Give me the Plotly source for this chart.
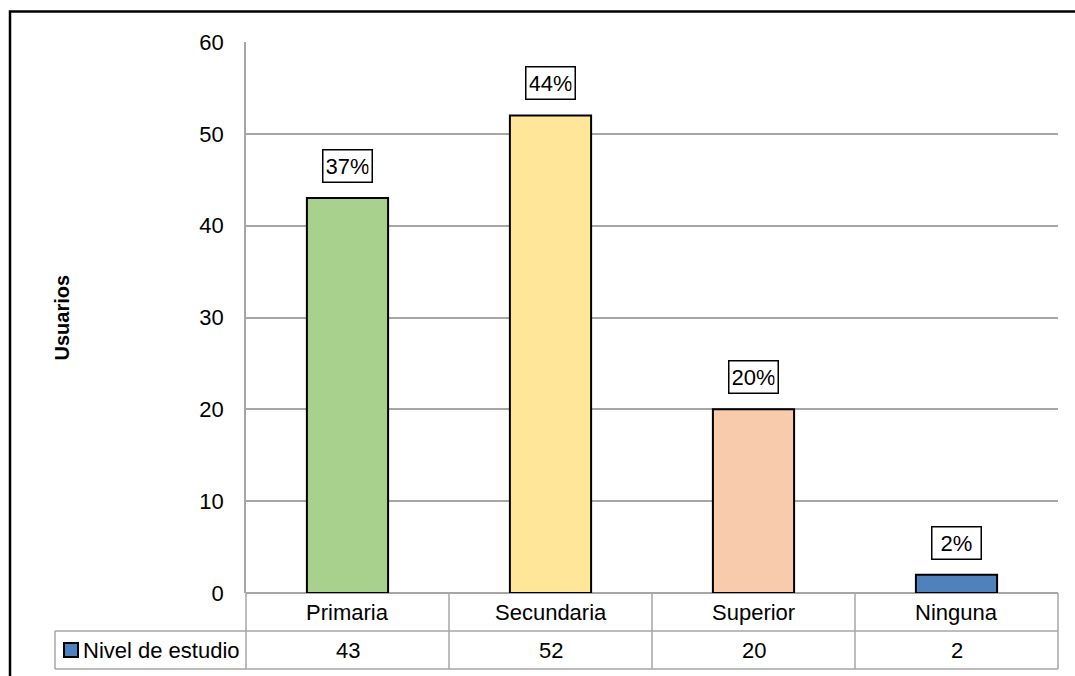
import plotly.graph_objects as go

categories = ["Primaria", "Secundaria", "Superior", "Ninguna"]
values = [43, 52, 20, 2]
pct_labels = ["37%", "44%", "20%", "2%"]
bar_colors = ["#A9D18E", "#FFE699", "#F8CBAD", "#4F81BD"]
series_name = "Nivel de estudio"
y_title = "Usuarios"
y_ticks = [0, 10, 20, 30, 40, 50, 60]

W, H = 1075, 676
FONT = "Liberation Sans, Arial"
FS = 22

def px(x):
    return x / W

def py(y):
    return 1 - y / H

# layout geometry (pixels)
PL, PR, PT, PB = 246, 1058, 42, 593
ROW1, ROW2 = 631, 669
TL = 55

fig = go.Figure()
fig.add_trace(go.Bar(
    x=categories, y=values,
    marker=dict(color=bar_colors, line=dict(color="black", width=2)),
    name=series_name, showlegend=False,
))

shapes = []
grid = "#A6A6A6"
# table lines
for y in [ROW1, ROW2]:
    shapes.append(dict(type="line", xref="paper", yref="paper",
                       x0=px(TL), x1=px(PR), y0=py(y), y1=py(y),
                       line=dict(color=grid, width=1.5)))
ncat = len(categories)
colw = (PR - PL) / ncat
for i in range(ncat + 1):
    xx = PL + i * colw
    shapes.append(dict(type="line", xref="paper", yref="paper",
                       x0=px(xx), x1=px(xx), y0=py(PB), y1=py(ROW2),
                       line=dict(color=grid, width=1.5)))
shapes.append(dict(type="line", xref="paper", yref="paper",
                   x0=px(TL), x1=px(TL), y0=py(ROW1), y1=py(ROW2),
                   line=dict(color=grid, width=1.5)))
# legend key
shapes.append(dict(type="rect", xref="paper", yref="paper",
                   x0=px(64), x1=px(78), y0=py(643), y1=py(657),
                   fillcolor=bar_colors[3], line=dict(color="black", width=2)))
# outer border (top and left visible)
shapes.append(dict(type="rect", xref="paper", yref="paper",
                   x0=px(10), x1=px(1100), y0=py(11.5), y1=py(720),
                   line=dict(color="black", width=2.5)))

annotations = []
for c, v, p in zip(categories, values, pct_labels):
    annotations.append(dict(x=c, y=v, xref="x", yref="y", text=p,
                            showarrow=False, yanchor="bottom", yshift=15,
                            font=dict(family=FONT, size=FS, color="black"),
                            bordercolor="black", borderwidth=1.5, borderpad=3,
                            width=42, bgcolor="white"))
    annotations.append(dict(x=c, y=py((PB + ROW1) / 2), xref="x", yref="paper",
                            text=c, showarrow=False, yanchor="middle",
                            font=dict(family=FONT, size=FS, color="black")))
    annotations.append(dict(x=c, y=py((ROW1 + ROW2) / 2), xref="x", yref="paper",
                            text=str(v), showarrow=False, yanchor="middle",
                            font=dict(family=FONT, size=FS, color="black")))
annotations.append(dict(x=px(81), y=py((ROW1 + ROW2) / 2), xref="paper", yref="paper",
                        text=series_name, showarrow=False, xanchor="left", yanchor="middle",
                        font=dict(family=FONT, size=FS, color="black")))
annotations.append(dict(x=px(61), y=py((PT + PB) / 2), xref="paper", yref="paper",
                        text="<b>" + y_title + "</b>", showarrow=False, textangle=-90,
                        xanchor="center", yanchor="middle",
                        font=dict(family=FONT, size=20, color="black")))

fig.update_layout(
    width=W, height=H,
    margin=dict(l=0, r=0, t=0, b=0, pad=0, autoexpand=False),
    paper_bgcolor="white", plot_bgcolor="white",
    bargap=0.6,
    shapes=shapes, annotations=annotations,
    font=dict(family=FONT, size=FS, color="black"),
    xaxis=dict(domain=[px(PL), px(PR)], showticklabels=False, showgrid=False,
               zeroline=False, showline=False, fixedrange=True, automargin=False),
    yaxis=dict(domain=[py(PB), py(PT)], range=[0, 60], tickvals=y_ticks,
               showgrid=True, gridcolor=grid, gridwidth=1.5,
               zeroline=True, zerolinecolor=grid, zerolinewidth=1.5,
               showline=True, linecolor=grid, linewidth=1.5, automargin=False,
               ticks="outside", ticklen=16, tickcolor="rgba(0,0,0,0)",
               tickfont=dict(family=FONT, size=FS, color="black")),
)

fig.write_html("out.html")
